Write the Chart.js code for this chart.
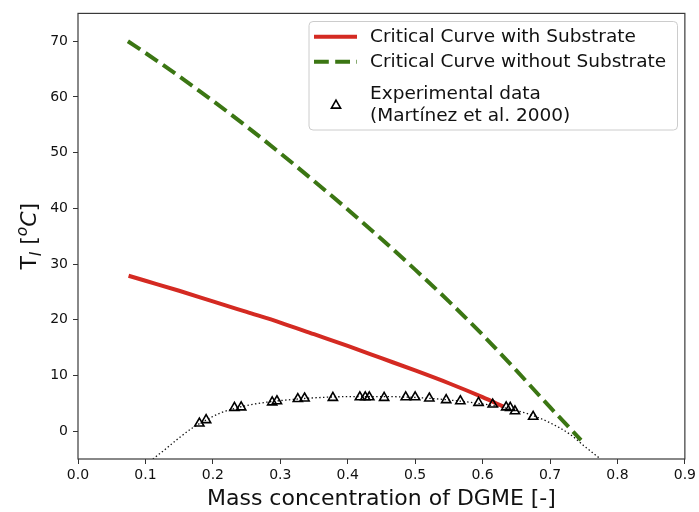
<!DOCTYPE html>
<html>
<head>
<meta charset="utf-8">
<script src="https://cdn.jsdelivr.net/npm/chart.js@4/dist/chart.umd.min.js"></script>
<style>
  html, body { margin: 0; padding: 0; background: #fff; }
  #wrap { width: 699px; height: 512px; }
</style>
</head>
<body>
<div id="wrap"><canvas id="c" width="699" height="512"></canvas></div>
<script>
// Critical curve accounting for the substrate
const withSubX = [0.075, 0.1, 0.15, 0.2, 0.25, 0.3, 0.35, 0.4, 0.45, 0.5, 0.55, 0.6, 0.631];
const withSubY = [27.9, 27.0, 25.2, 23.3, 21.4, 19.5, 17.4, 15.3, 13.1, 10.9, 8.6, 6.1, 4.4];

// Critical curve ignoring the substrate
const noSubX = [0.074, 0.1, 0.15, 0.2, 0.25, 0.3, 0.35, 0.4, 0.45, 0.5, 0.55, 0.6, 0.65, 0.7, 0.746];
const noSubY = [70.0, 67.9, 63.7, 59.3, 54.7, 49.9, 44.9, 39.8, 34.5, 29.0, 23.3, 17.3, 10.9, 4.3, -1.6];

// Cloud-point measurements (Martínez et al. 2000)
const expX = [0.180, 0.190, 0.232, 0.242, 0.288, 0.295, 0.326, 0.336, 0.378, 0.418, 0.426, 0.432,
              0.454, 0.486, 0.500, 0.521, 0.546, 0.567, 0.594, 0.615, 0.635, 0.641, 0.648, 0.675];
const expY = [1.4, 2.0, 4.2, 4.3, 5.2, 5.4, 5.8, 5.9, 6.0, 6.1, 6.1, 6.1,
              6.0, 6.1, 6.1, 5.9, 5.6, 5.4, 5.1, 4.8, 4.3, 4.2, 3.6, 2.6];

// Smooth trend through the measurements
const fitX = [0.111, 0.13, 0.15, 0.17, 0.19, 0.21, 0.23, 0.25, 0.28, 0.31, 0.34, 0.37, 0.40, 0.43,
              0.46, 0.49, 0.52, 0.55, 0.58, 0.61, 0.64, 0.67, 0.70, 0.73, 0.75, 0.775];
const fitY = [-5.0, -3.2, -1.2, 0.6, 2.0, 3.2, 4.0, 4.6, 5.2, 5.6, 5.9, 6.1, 6.2, 6.2,
              6.2, 6.1, 5.9, 5.6, 5.2, 4.7, 4.0, 3.0, 1.5, -0.6, -2.6, -5.0];

const xTicks = [0, 0.1, 0.2, 0.3, 0.4, 0.5, 0.6, 0.7, 0.8, 0.9];
const yTicks = [0, 10, 20, 30, 40, 50, 60, 70];

const legendLabels = ['Critical Curve with Substrate', 'Critical Curve without Substrate',
                      ['Experimental data', '(Martínez et al. 2000)']];

const FONT = "'DejaVu Sans', sans-serif";
const RED = '#d42a22';
const GREEN = '#3b7613';

const pts = (xs, ys) => xs.map((x, i) => ({ x: x, y: ys[i] }));

// Axes frame on all four sides
const framePlugin = {
  id: 'frame',
  afterDraw(chart) {
    const { ctx, chartArea: a } = chart;
    ctx.save();
    ctx.strokeStyle = '#3a3a3a';
    ctx.lineWidth = 1.2;
    ctx.strokeRect(a.left, a.top, a.right - a.left, a.bottom - a.top);
    ctx.restore();
  }
};

// Y axis title with subscript / superscript parts
const yTitlePlugin = {
  id: 'ytitle',
  afterDraw(chart) {
    const { ctx, chartArea: a } = chart;
    const big = 22, small = 15.5;
    const parts = [
      { t: 'T', f: `${big}px ${FONT}`, dy: 0 },
      { t: 'l', f: `italic ${small}px ${FONT}`, dy: 5 },
      { t: ' [', f: `${big}px ${FONT}`, dy: 0 },
      { t: 'o', f: `italic ${small}px ${FONT}`, dy: -9 },
      { t: 'C', f: `italic ${big}px ${FONT}`, dy: 0 },
      { t: ']', f: `${big}px ${FONT}`, dy: 0 }
    ];
    ctx.save();
    let total = 0;
    parts.forEach(p => { ctx.font = p.f; p.w = ctx.measureText(p.t).width; total += p.w; });
    ctx.translate(28 + 8, (a.top + a.bottom) / 2);
    ctx.rotate(-Math.PI / 2);
    ctx.fillStyle = '#111';
    ctx.textBaseline = 'alphabetic';
    let x = -total / 2;
    parts.forEach(p => { ctx.font = p.f; ctx.fillText(p.t, x, p.dy); x += p.w; });
    ctx.restore();
  }
};

// Legend box in the upper right
const legendPlugin = {
  id: 'customLegend',
  afterDraw(chart) {
    const ctx = chart.ctx;
    const bx = 309, by = 21.5, bw = 368.5, bh = 108.5, r = 4;
    ctx.save();
    ctx.beginPath();
    ctx.moveTo(bx + r, by);
    ctx.arcTo(bx + bw, by, bx + bw, by + bh, r);
    ctx.arcTo(bx + bw, by + bh, bx, by + bh, r);
    ctx.arcTo(bx, by + bh, bx, by, r);
    ctx.arcTo(bx, by, bx + bw, by, r);
    ctx.closePath();
    ctx.fillStyle = 'rgba(255,255,255,0.85)';
    ctx.fill();
    ctx.strokeStyle = '#cccccc';
    ctx.lineWidth = 1;
    ctx.stroke();

    const ds = chart.data.datasets;
    // red solid sample
    ctx.lineWidth = ds[0].borderWidth;
    ctx.strokeStyle = ds[0].borderColor;
    ctx.setLineDash([]);
    ctx.beginPath(); ctx.moveTo(314, 36.7); ctx.lineTo(357, 36.7); ctx.stroke();
    // green dashed sample
    ctx.lineWidth = ds[1].borderWidth;
    ctx.strokeStyle = ds[1].borderColor;
    ctx.setLineDash(ds[1].borderDash);
    ctx.beginPath(); ctx.moveTo(314, 61.7); ctx.lineTo(357, 61.7); ctx.stroke();
    ctx.setLineDash([]);
    // triangle marker sample
    ctx.fillStyle = 'rgba(255,255,255,0)';
    ctx.strokeStyle = '#000';
    ctx.lineWidth = ds[3].pointBorderWidth;
    Chart.helpers.drawPoint(ctx, {
      pointStyle: 'triangle', radius: ds[3].pointRadius, borderWidth: ds[3].pointBorderWidth,
      rotation: 0
    }, 336, 105.5);

    ctx.fillStyle = '#111';
    ctx.font = `18.5px ${FONT}`;
    ctx.textBaseline = 'middle';
    ctx.fillText(legendLabels[0], 370, 37);
    ctx.fillText(legendLabels[1], 370, 62);
    ctx.fillText(legendLabels[2][0], 370, 94);
    ctx.fillText(legendLabels[2][1], 370, 116);
    ctx.restore();
  }
};

new Chart(document.getElementById('c'), {
  type: 'scatter',
  data: {
    datasets: [
      {
        label: legendLabels[0],
        data: pts(withSubX, withSubY),
        showLine: true, borderColor: RED, backgroundColor: RED,
        borderWidth: 4, pointRadius: 0, cubicInterpolationMode: 'monotone', order: 1
      },
      {
        label: legendLabels[1],
        data: pts(noSubX, noSubY),
        showLine: true, borderColor: GREEN, backgroundColor: GREEN,
        borderWidth: 4, borderDash: [14.8, 6.4], pointRadius: 0,
        cubicInterpolationMode: 'monotone', order: 2
      },
      {
        label: 'fit',
        data: pts(fitX, fitY),
        showLine: true, borderColor: '#111', borderWidth: 1.3, borderDash: [1.4, 2.4],
        pointRadius: 0, cubicInterpolationMode: 'monotone', order: 3
      },
      {
        label: 'Experimental data (Martínez et al. 2000)',
        data: pts(expX, expY),
        showLine: false, pointStyle: 'triangle', pointRadius: 5.3,
        pointBorderWidth: 1.6, pointBorderColor: '#000', pointBackgroundColor: 'rgba(255,255,255,0)',
        order: 0
      }
    ]
  },
  options: {
    responsive: false,
    animation: false,
    layout: { padding: { left: 0, top: 11, right: 12, bottom: 0 } },
    plugins: { legend: { display: false }, tooltip: { enabled: false } },
    scales: {
      x: {
        type: 'linear', min: 0, max: 0.9,
        afterBuildTicks: s => { s.ticks = xTicks.map(v => ({ value: v })); },
        afterFit: s => { s.height = 53; },
        grid: { display: true, drawOnChartArea: false, tickLength: 5, tickColor: '#333', tickWidth: 1 },
        border: { display: false },
        ticks: {
          color: '#111', font: { family: FONT, size: 14 }, padding: 3, maxRotation: 0,
          callback: v => Number(v).toFixed(1)
        },
        title: {
          display: true, text: 'Mass concentration of DGME [-]', color: '#111',
          font: { family: FONT, size: 22 }, padding: { top: 1, bottom: 0 }
        }
      },
      y: {
        type: 'linear', min: -5, max: 75,
        afterBuildTicks: s => { s.ticks = yTicks.map(v => ({ value: v })); },
        afterFit: s => { s.width = 78; },
        grid: { display: true, drawOnChartArea: false, tickLength: 5, tickColor: '#333', tickWidth: 1 },
        border: { display: false },
        ticks: { color: '#111', font: { family: FONT, size: 14 }, padding: 5 }
      }
    }
  },
  plugins: [framePlugin, yTitlePlugin, legendPlugin]
});
</script>
</body>
</html>
